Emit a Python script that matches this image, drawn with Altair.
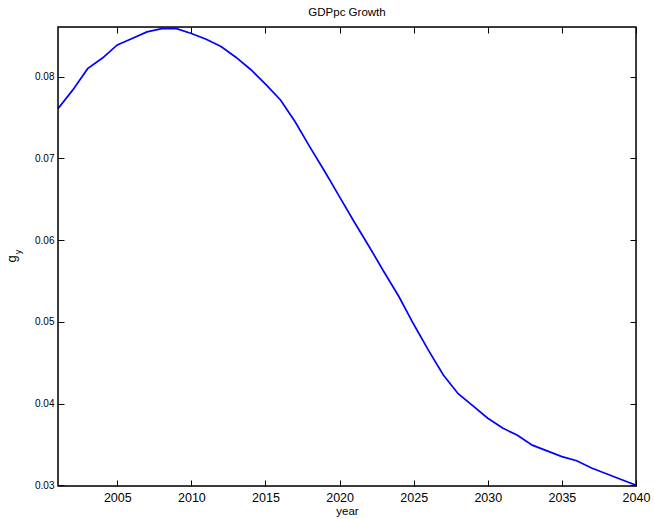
import altair as alt
import pandas as pd

# GDP per capita growth rate by year
years = list(range(2001, 2041))
growth = [
    0.0761, 0.0784, 0.0810, 0.0823, 0.0839, 0.0847, 0.0855, 0.0859, 0.0859, 0.0853,
    0.0846, 0.0837, 0.0824, 0.0809, 0.0791, 0.0772, 0.0745, 0.0714, 0.0684, 0.0653,
    0.0622, 0.0592, 0.0561, 0.0531, 0.0497, 0.0465, 0.0435, 0.0412, 0.0397, 0.0382,
    0.0370, 0.0361, 0.0349, 0.0342, 0.0335, 0.0330, 0.0321, 0.0314, 0.0307, 0.0300,
]
x_ticks = [2005, 2010, 2015, 2020, 2025, 2030, 2035, 2040]
y_ticks = [0.03, 0.04, 0.05, 0.06, 0.07, 0.08]

df = pd.DataFrame({"year": years, "g": growth})

FONT = "Liberation Sans"
W, H = 578, 459
TICK = 6

x_scale = alt.Scale(domain=[2001, 2040], nice=False, zero=False)
y_scale = alt.Scale(domain=[0.0299, 0.0861], nice=False, zero=False)

base = alt.Chart(df)

line = base.mark_line(color="#0000ff", strokeWidth=1.7, clip=True).encode(
    x=alt.X("year:Q", scale=x_scale,
            axis=alt.Axis(orient="bottom", values=x_ticks, format="d", title="year",
                          offset=-TICK, tickSize=TICK, domain=False, grid=False,
                          labelPadding=5, titlePadding=2, tickColor="black",
                          labelFlush=False, labelFontSize=12.5,
                          titleFontWeight="normal", titleFontSize=11.5)),
    y=alt.Y("g:Q", scale=y_scale,
            axis=alt.Axis(orient="left", values=y_ticks, format=".2f", title=None,
                          offset=-TICK, tickSize=TICK, domain=False, grid=False,
                          labelPadding=4, tickColor="black", labelFlush=False)),
)

# mirrored inward ticks on the top and right edges
mirror = base.mark_line(opacity=0).encode(
    x=alt.X("year:Q", scale=x_scale,
            axis=alt.Axis(orient="top", values=x_ticks, labels=False, title=None,
                          offset=-TICK, tickSize=TICK, domain=False, grid=False,
                          tickColor="black")),
    y=alt.Y("g:Q", scale=y_scale,
            axis=alt.Axis(orient="right", values=y_ticks, labels=False, title=None,
                          offset=-TICK, tickSize=TICK, domain=False, grid=False,
                          tickColor="black")),
)

# plot frame
frame = alt.Chart(pd.DataFrame({"k": [0]})).mark_rect(
    fill=None, stroke="black", strokeWidth=1.5
).encode(x=alt.value(0), x2=alt.value(W), y=alt.value(0), y2=alt.value(H))

# y-axis title: g with subscript y
g_label = alt.Chart(pd.DataFrame({"t": ["g"]})).mark_text(
    font=FONT, fontSize=13, angle=270, color="black", align="center", baseline="middle"
).encode(text="t:N", x=alt.value(-46), y=alt.value(232))
y_sub = alt.Chart(pd.DataFrame({"t": ["y"]})).mark_text(
    font=FONT, fontSize=9, angle=270, color="black", align="center", baseline="middle"
).encode(text="t:N", x=alt.value(-40), y=alt.value(225))

chart = alt.layer(line, mirror, frame, g_label, y_sub).resolve_axis(
    x="independent", y="independent"
).properties(
    width=W, height=H,
    title=alt.TitleParams("GDPpc Growth", font=FONT, fontSize=11.5, fontWeight="normal",
                          color="black", offset=8),
    padding={"left": 58, "top": 27, "right": 18, "bottom": 33},
    autosize=alt.AutoSizeParams(type="none"),
).configure_view(
    stroke=None
).configure_axis(
    labelFont=FONT, titleFont=FONT, labelFontSize=11, titleFontSize=11,
    labelColor="black", titleColor="black", titleFontWeight="normal", tickWidth=1
).configure(background="white")

chart.save("out.html", embed_options={"renderer": "svg", "actions": False})
